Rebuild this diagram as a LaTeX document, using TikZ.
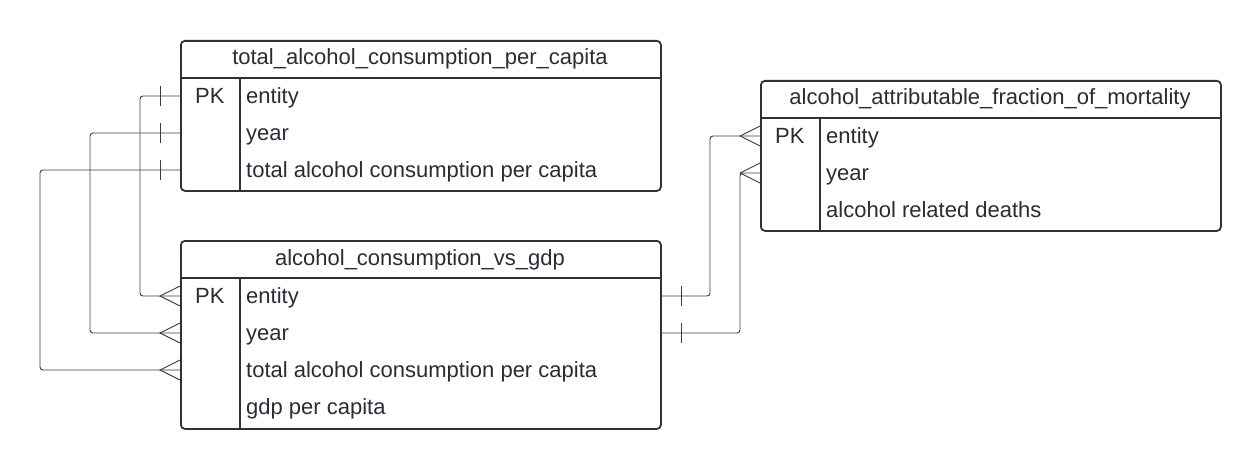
\documentclass[tikz,border=0pt]{standalone}
\usepackage{fontspec}
\setmainfont{Liberation Sans}
\definecolor{ink}{HTML}{282C33}
\definecolor{edge}{HTML}{2E3138}
\definecolor{wire}{HTML}{3A3D44}
\begin{document}
\begin{tikzpicture}[x=1pt,y=-1pt,
  tbl/.style={draw=edge, line width=1.8pt, rounded corners=4pt, minimum width=480pt, anchor=north west, inner sep=0pt},
  hdr/.style={text=ink, font=\fontsize{22}{24}\selectfont, inner sep=0pt, anchor=base},
  fld/.style={text=ink, font=\fontsize{22}{24}\selectfont, anchor=base west, inner sep=0pt},
  sep/.style={draw=edge, line width=1.8pt},
  conn/.style={draw=wire, line width=0.9pt, rounded corners=3pt},
  crowpart/.style={draw=wire, line width=0.9pt}
]
\useasboundingbox (0,0) rectangle (1260,468);

% Table 1
\node[tbl, minimum height=150pt] (t1) at (180,40) {};
\node[hdr] (t1h) at (420,65) {total\_alcohol\_consumption\_per\_capita};
\draw[sep] (180,78) -- (660,78);
\draw[sep] (240,78) -- (240,190);
\node[fld] (t1pk) at (195,103) {PK};
\node[fld] (t1a) at (246,103) {entity};
\node[fld] (t1b) at (246,140) {year};
\node[fld] (t1c) at (246,177) {total alcohol consumption per capita};

% Table 2
\node[tbl, minimum height=188pt] (t2) at (180,240) {};
\node[hdr] (t2h) at (420,265) {alcohol\_consumption\_vs\_gdp};
\draw[sep] (180,278) -- (660,278);
\draw[sep] (240,278) -- (240,428);
\node[fld] (t2pk) at (195,303) {PK};
\node[fld] (t2a) at (246,303) {entity};
\node[fld] (t2b) at (246,340) {year};
\node[fld] (t2c) at (246,377) {total alcohol consumption per capita};
\node[fld] (t2d) at (246,414) {gdp per capita};

% Table 3
\node[tbl, minimum width=460pt, minimum height=150pt] (t3) at (760,80) {};
\node[hdr] (t3h) at (990,105) {alcohol\_attributable\_fraction\_of\_mortality};
\draw[sep] (760,118) -- (1220,118);
\draw[sep] (820,118) -- (820,230);
\node[fld] (t3pk) at (775,143) {PK};
\node[fld] (t3a) at (826,143) {entity};
\node[fld] (t3b) at (826,180) {year};
\node[fld] (t3c) at (826,217) {alcohol related deaths};

% connector end points on table borders (row centres)
\coordinate (s1) at (180,96);
\coordinate (s2) at (180,133);
\coordinate (s3) at (180,170);
\coordinate (e1) at (180,296);
\coordinate (e2) at (180,333);
\coordinate (e3) at (180,370);
\coordinate (r1) at (660,296);
\coordinate (r2) at (660,333);
\coordinate (q1) at (760,136);
\coordinate (q2) at (760,173);

% left connectors
\draw[conn] (s1) -- (140,96) |- (e1);
\draw[conn] (s2) -- (90,133) |- (e2);
\draw[conn] (s3) -- (40,170) |- (e3);
% right connectors
\draw[conn] (r1) -- (710,296) |- (q1);
\draw[conn] (r2) -- (740,333) -- (740,173) -- (q2);

% one bars
\foreach \p in {s1,s2,s3} \draw[crowpart] (\p) ++(-20,-10) -- ++(0,20);
\foreach \p in {r1,r2} \draw[crowpart] (\p) ++(21,-10) -- ++(0,20);
% crow's feet
\foreach \p in {e1,e2,e3,q1,q2} \draw[crowpart] (\p) ++(0,-10) -- ++(-20,10) -- ++(20,10);
\end{tikzpicture}
\end{document}
